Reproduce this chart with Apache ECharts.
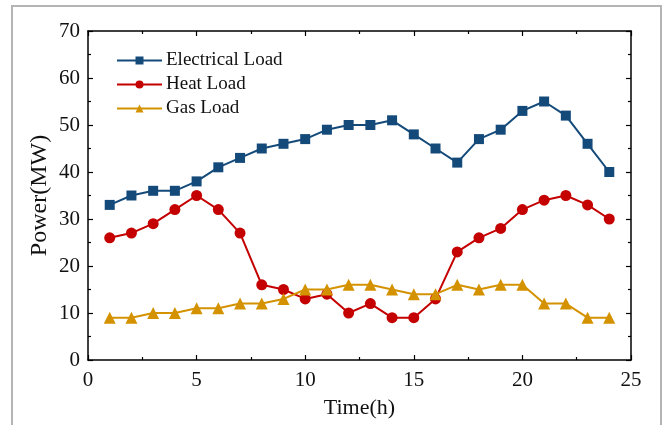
<!DOCTYPE html>
<html>
<head>
<meta charset="utf-8">
<script src="https://cdn.jsdelivr.net/npm/echarts@6/dist/echarts.min.js"></script>
<style>
html,body{margin:0;padding:0;background:#fff;}
#c{width:664px;height:425px;}
</style>
</head>
<body>
<div id="c"></div>
<script>
const hours = [1,2,3,4,5,6,7,8,9,10,11,12,13,14,15,16,17,18,19,20,21,22,23,24];
const electricalLoad = [33,35,36,36,38,41,43,45,46,47,49,50,50,51,48,45,42,47,49,53,55,52,46,40];
const heatLoad = [26,27,29,32,35,32,27,16,15,13,14,10,12,9,9,13,23,26,28,32,34,35,33,30];
const gasLoad = [9,9,10,10,11,11,12,12,13,15,15,16,16,15,14,14,16,15,16,16,12,12,9,9];
const seriesNames = ['Electrical Load','Heat Load','Gas Load'];

const FONT = '"Liberation Serif", "Times New Roman", serif';
const axisLineStyle = {color:'#000', width:1.5};
function pairs(vals){ return hours.map((h,i)=>[h, vals[i]]); }

const chart = echarts.init(document.getElementById('c'), null, {renderer:'canvas'});
const common = {
  axisLine:{show:true, onZero:false, lineStyle:axisLineStyle},
  axisTick:{show:true, inside:true, length:5, lineStyle:{color:'#000', width:1.2}},
  minorTick:{show:true, splitNumber:2, length:3, lineStyle:{color:'#000', width:1.2}},
  splitLine:{show:false}
};
chart.setOption({
  animation:false,
  backgroundColor:'#fff',
  graphic:[{type:'rect', shape:{x:12, y:6, width:649, height:440}, style:{fill:null, stroke:'#b4b4b4', lineWidth:2}, silent:true}],
  grid:{left:88, right:33, top:31, bottom:65},
  legend:{
    orient:'vertical', left:111, top:46, itemWidth:45, itemHeight:10, itemGap:5,
    textStyle:{fontFamily:FONT, fontSize:19, color:'#111', padding:[0,0,0,-1]},
    data:seriesNames
  },
  xAxis:[
    Object.assign({type:'value', min:0, max:25, interval:5, position:'bottom',
      name:'Time(h)', nameLocation:'middle', nameGap:37, nameMoveOverlap:false,
      nameTextStyle:{fontFamily:FONT, fontSize:22, color:'#111'},
      axisLabel:{fontFamily:FONT, fontSize:21, color:'#111', margin:10}}, common),
    Object.assign({type:'value', min:0, max:25, interval:5, position:'top',
      axisLabel:{show:false}}, common)
  ],
  yAxis:[
    Object.assign({type:'value', min:0, max:70, interval:10, position:'left',
      name:'Power(MW)', nameLocation:'middle', nameGap:36, nameMoveOverlap:false,
      nameTextStyle:{fontFamily:FONT, fontSize:24, color:'#111'},
      axisLabel:{fontFamily:FONT, fontSize:21, color:'#111', margin:8}}, common),
    Object.assign({type:'value', min:0, max:70, interval:10, position:'right',
      axisLabel:{show:false}}, common)
  ],
  series:[
    {name:seriesNames[0], type:'line', data:pairs(electricalLoad), symbol:'rect', symbolSize:10,
     lineStyle:{color:'#144a7a', width:2}, itemStyle:{color:'#144a7a'}, color:'#144a7a'},
    {name:seriesNames[1], type:'line', data:pairs(heatLoad), symbol:'circle', symbolSize:11,
     lineStyle:{color:'#c40000', width:2}, itemStyle:{color:'#c40000'}, color:'#c40000'},
    {name:seriesNames[2], type:'line', data:pairs(gasLoad), symbol:'triangle', symbolSize:12,
     lineStyle:{color:'#d49200', width:2}, itemStyle:{color:'#d49200'}, color:'#d49200'}
  ]
});
</script>
</body>
</html>
